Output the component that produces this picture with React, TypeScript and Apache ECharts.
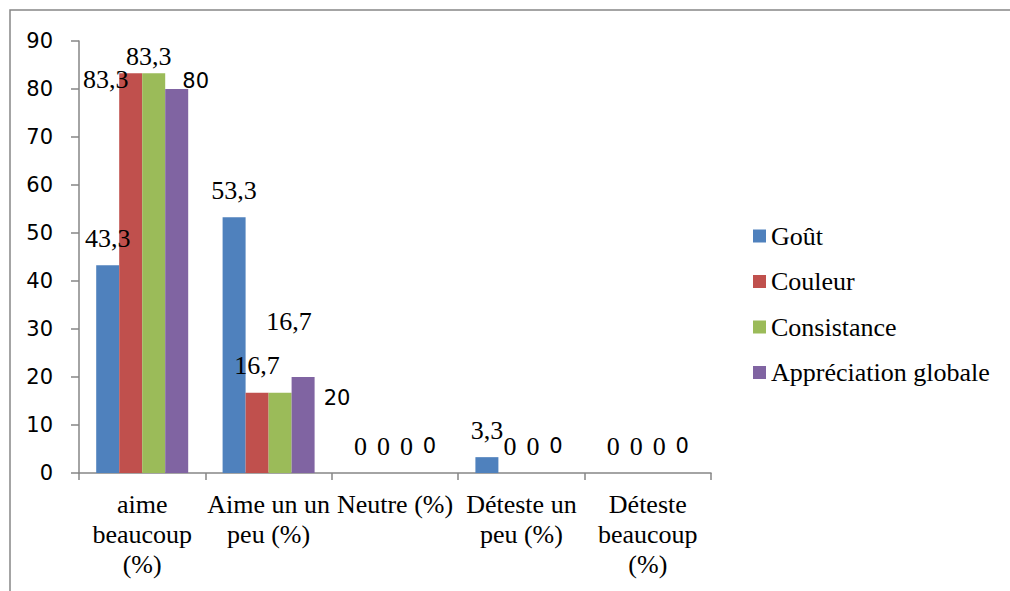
import { useEffect, useRef } from 'react';
import * as echarts from 'echarts';

// Categories (line breaks as printed under the axis)
const categories = [
  'aime\nbeaucoup\n(%)',
  'Aime un un\npeu (%)',
  'Neutre (%)',
  'Déteste un\npeu (%)',
  'Déteste\nbeaucoup\n(%)',
];

const seriesNames = ['Goût', 'Couleur', 'Consistance', 'Appréciation globale'];

const gout = [43.3, 53.3, 0, 3.3, 0];
const couleur = [83.3, 16.7, 0, 0, 0];
const consistance = [83.3, 16.7, 0, 0, 0];
const appreciation = [80, 20, 0, 0, 0];

const yMin = 0;
const yMax = 90;
const yStep = 10;

const colors = ['#4F81BD', '#C0504D', '#9BBB59', '#8064A2'];

// Hand-placed value labels: [dx, dy] nudge per series, per category
const labelNudges: number[][][] = [
  [[0, 0], [0, 0], [0, 0], [0, 0], [0, 0]],
  [[-25, 33], [0, 0], [0, 0], [0, 0], [0, 0]],
  [[-5, 10], [9, -44], [0, 0], [0, 0], [0, 0]],
  [[19, 19], [34, 48], [0, 0], [0, 0], [0, 0]],
];

const SERIF = 'Liberation Serif';
const SANS = 'DejaVu Sans';

const fmt = (v: number) => String(v).replace('.', ',');

export default function App() {
  const ref = useRef<HTMLDivElement>(null);

  useEffect(() => {
    if (!ref.current) return;
    const chart = echarts.init(ref.current, undefined, { renderer: 'svg' });
    const values = [gout, couleur, consistance, appreciation];

    const series = values.map((vals, si) => {
      const sans = si === 3;
      return {
        name: seriesNames[si],
        type: 'bar',
        barWidth: 23,
        barGap: '0%',
        itemStyle: { color: colors[si] },
        data: vals.map((v, ci) => ({
          value: v,
          label: { offset: labelNudges[si][ci] },
        })),
        label: {
          show: true,
          position: 'top',
          distance: sans ? 17 : 14,
          color: '#000',
          fontFamily: sans ? SANS : SERIF,
          fontSize: sans ? 21 : 26,
          formatter: (p: any) => fmt(p.value),
        },
      };
    });

    chart.setOption({
      animation: false,
      backgroundColor: '#fff',
      color: colors,
      grid: { left: 79, right: 299, top: 41, bottom: 118, containLabel: false },
      legend: {
        orient: 'vertical',
        left: 748,
        top: 218,
        itemWidth: 13,
        itemHeight: 13,
        itemGap: 19.5,
        icon: 'rect',
        data: seriesNames,
        textStyle: { fontFamily: SERIF, fontSize: 26, color: '#000', lineHeight: 26 },
      },
      xAxis: {
        type: 'category',
        data: categories,
        axisLine: { show: true, lineStyle: { color: '#868686', width: 1.5 } },
        axisTick: { show: true, length: 7, lineStyle: { color: '#868686', width: 1.5 } },
        axisLabel: {
          interval: 0,
          margin: 16,
          fontFamily: SERIF,
          fontSize: 26,
          lineHeight: 30,
          color: '#000',
        },
      },
      yAxis: {
        type: 'value',
        min: yMin,
        max: yMax,
        interval: yStep,
        splitLine: { show: false },
        axisLine: { show: true, lineStyle: { color: '#868686', width: 1.5 } },
        axisTick: { show: true, length: 8, lineStyle: { color: '#868686', width: 1.5 } },
        axisLabel: { margin: 26, fontFamily: SANS, fontSize: 21, color: '#000' },
      },
      graphic: [
        {
          type: 'rect',
          silent: true,
          z: -10,
          shape: { x: 10, y: 10, width: 1200, height: 800 },
          style: { fill: 'none', stroke: '#868686', lineWidth: 1.5 },
        },
      ],
      series,
    });

    return () => chart.dispose();
  }, []);

  return (
    <div
      ref={ref}
      style={{ position: 'fixed', left: 0, top: 0, width: 1010, height: 591 }}
    />
  );
}
